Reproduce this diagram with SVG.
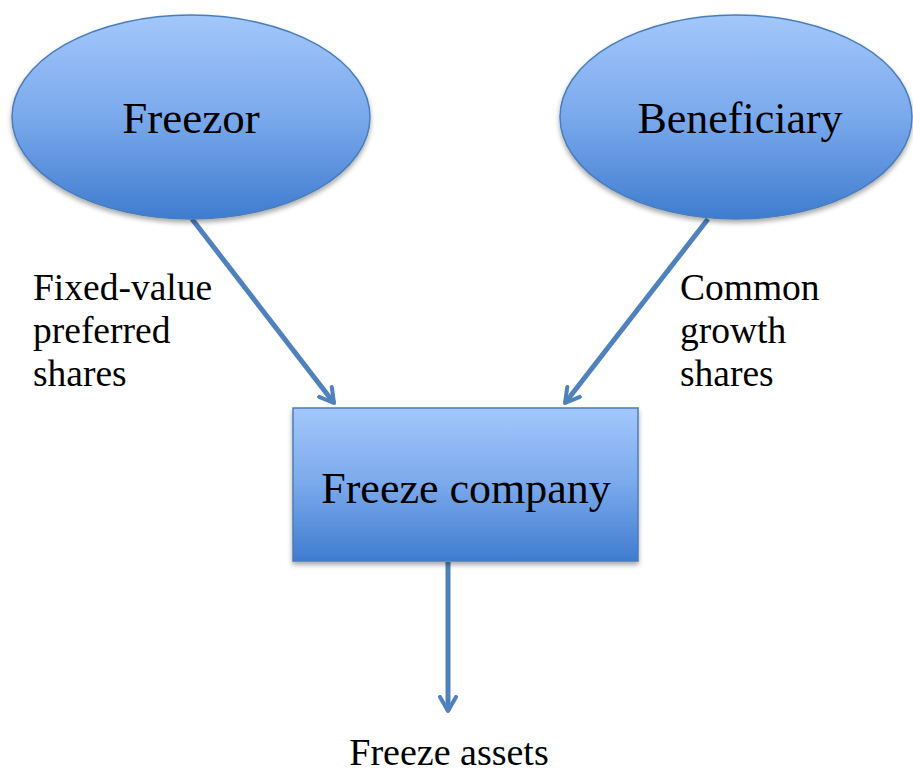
<svg xmlns="http://www.w3.org/2000/svg" width="913" height="774" viewBox="0 0 913 774">
<style>
.lbl{font-family:"Liberation Serif","DejaVu Serif",serif;fill:#000}
.node{stroke:#4a7ebb;stroke-width:1.5;fill:url(#g)}
.conn{stroke:#4f81bd;stroke-width:5;fill:none;marker-end:url(#ah)}
</style>
<defs>
<linearGradient id="g" x1="0" y1="0" x2="0" y2="1">
<stop offset="0" stop-color="#a3c7fb"/>
<stop offset="0.5" stop-color="#7aa9ec"/>
<stop offset="1" stop-color="#3f7ccf"/>
</linearGradient>
<filter id="sh" x="-10%" y="-10%" width="120%" height="125%">
<feDropShadow dx="0" dy="3" stdDeviation="2.5" flood-color="#000" flood-opacity="0.35"/>
</filter>
<marker id="ah" viewBox="0 0 10 10" refX="8" refY="5" markerWidth="4" markerHeight="4" orient="auto" markerUnits="strokeWidth">
<path d="M1,1 L8,5 L1,9" fill="none" stroke="#4f81bd" stroke-width="2" stroke-linecap="round" stroke-linejoin="round"/>
</marker>
</defs>
<g id="connectors">
<line class="conn" x1="192" y1="219" x2="334" y2="403"/>
<line class="conn" x1="708" y1="219" x2="565" y2="403"/>
<line class="conn" x1="448" y1="562" x2="448" y2="711"/>
</g>
<g id="freezor">
<ellipse class="node" filter="url(#sh)" cx="191" cy="117" rx="179" ry="102"/>
<text class="lbl" x="191" y="133" font-size="45" text-anchor="middle">Freezor</text>
</g>
<g id="beneficiary">
<ellipse class="node" filter="url(#sh)" cx="736" cy="117" rx="176" ry="102"/>
<text class="lbl" x="740" y="133" font-size="44" text-anchor="middle">Beneficiary</text>
</g>
<g id="freeze-company">
<rect class="node" filter="url(#sh)" x="293" y="408" width="345" height="153"/>
<text class="lbl" x="466" y="503" font-size="44" text-anchor="middle">Freeze company</text>
</g>
<g id="labels">
<text class="lbl" x="33" y="300" font-size="37.5">Fixed-value</text>
<text class="lbl" x="33" y="343" font-size="37.5">preferred</text>
<text class="lbl" x="33" y="386" font-size="37.5">shares</text>
<text class="lbl" x="680" y="300" font-size="37.5">Common</text>
<text class="lbl" x="680" y="343" font-size="37.5">growth</text>
<text class="lbl" x="680" y="386" font-size="37.5">shares</text>
</g>
<g id="freeze-assets">
<text class="lbl" x="449" y="765" font-size="38" text-anchor="middle">Freeze assets</text>
</g>
</svg>
